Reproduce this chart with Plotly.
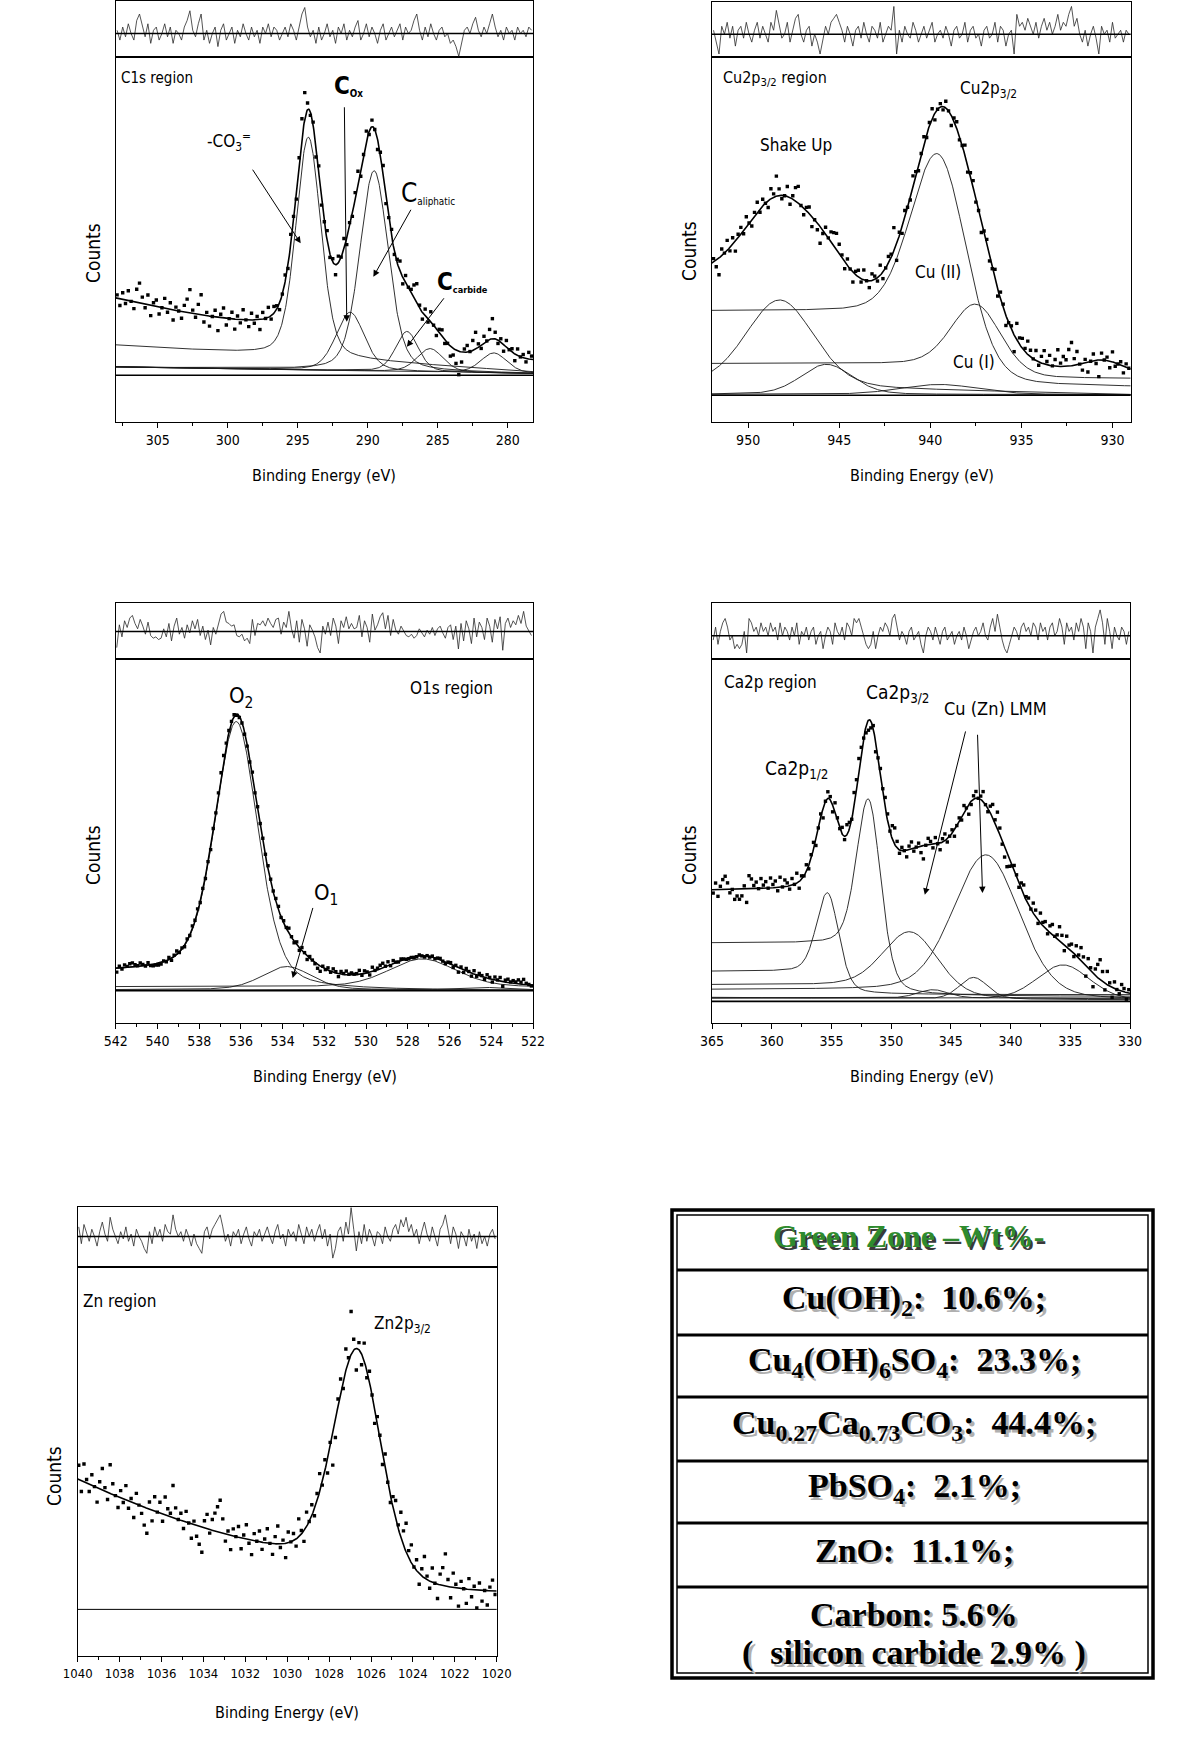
import numpy as np
import plotly.graph_objects as go

W, H = 1200, 1752
NARROW = "DejaVu Sans Condensed"
SERIF = "Liberation Serif"

# ======================= C1s region =======================
c1s_e_start, c1s_e_step = 307.9, -0.2
c1s_residual = [
    1, -2, 2, -1, 3, 0, -2, 4, 6, 2,
    -1, 3, -3, 1, 2, -2, 0, 3, -1, 2,
    -3, 1, 0, -2, 2, 4, 7, 1, -1, 3,
    6, -2, 1, -3, 0, 2, -4, 1, 3, -2,
    0, 2, -3, 1, -1, 3, 0, -2, 2, -1,
    1, -3, 2, 0, 3, -1, 2, 1, -2, 0,
    2, -1, 3, 1, -2, 2, 6, 8, 2, -1,
    1, -3, 2, -2, 0, 3, -1, 1, -3, 2,
    0, 3, -2, 1, -1, 2, 4, -2, 0, 3,
    -1, 2, 0, -3, 1, 3, -2, 0, 2, -1,
    1, 3, -2, 2, 0, 1, 4, 6, 1, -2,
    2, -1, 3, 0, -2, 1, 2, -1, 0, -3,
    -2, -4, -7, -3, 1, 2, 0, 3, 5, 1,
    -1, 2, 0, 3, 6, 2, -1, 1, -2, 2,
    0, 1, -2, 2, 0, 1, -1, 2, 1]
c1s_centers = [294.24, 291.26, 289.55, 287.2, 285.55, 281.0]
c1s_heights = [66, 17.5, 60, 12, 7, 6]
c1s_fwhm = [2.1, 2.4, 2.4, 1.9, 2.2, 2.2]
c1s_lorentz = [0.3, 0.3, 0.3, 0.3, 0.3, 0.3]
c1s_base_left = [9, 2.5, 2.5, 2.5, 2.5, 2.5]
c1s_base_right = [1, 0.5, 0.5, 0.5, 0.5, 0.5]
c1s_base_kind = ["lin", "lin", "lin", "lin", "lin", "lin"]
c1s_shown = [True, True, True, True, True, True]
c1s_background = [4.0, 0.0167, 4.1]   # right level, curvature, Shirley step

# ======================= Cu2p3/2 region =======================
cu_e_start, cu_e_step = 951.9, -0.15
cu_residual = [
    1, -2, -5, 2, 0, 3, -1, 2, -3, 1,
    2, -1, 3, 0, -2, 1, 3, -1, 2, 0,
    -2, 3, 1, 6, 2, -1, 0, 3, -2, 1,
    4, 5, 0, -2, 1, 2, -3, 0, -2, -5,
    -1, 2, 0, 3, 4, 5, 3, 1, -2, 2,
    0, -3, 1, 2, -1, 3, 0, -2, 2, 1,
    -1, 3, -2, 0, 2, 1, 7, -5, 1, -2,
    2, 0, -1, 3, 1, -2, 0, 2, -1, 1,
    3, -2, 0, 1, -1, 2, 0, -3, 1, 2,
    -1, 0, 3, -2, 1, 2, -1, 0, -3, 1,
    2, -1, 0, 3, -2, 2, 1, -3, 0, 1,
    -5, 5, 2, 3, 1, 4, 2, 0, 3, -1,
    2, 4, 1, 3, 0, 2, 5, 1, 3, 2,
    5, 7, 2, 4, 0, -2, 1, -3, 0, 2,
    -1, -5, 2, 0, 1, -2, 3, -1, 0, 1,
    -2, 1, 0]
cu_centers = [948.26, 945.7, 939.45, 937.45, 939.5, 930.5]
cu_heights = [26, 9, 58, 20, 3, 3.5]
cu_fwhm = [4.4, 3.3, 3.6, 3.2, 5.0, 2.5]
cu_lorentz = [0.2, 0.2, 0.2, 0.2, 0.2, 0.2]
cu_base_left = [3, 0.3, 25.2, 9.5, 0.3, 5]
cu_base_right = [0.2, 0.2, 2.5, 5, 0.2, 5]
cu_base_kind = ["lin", "lin", "step", "step", "lin", "lin"]
cu_shown = [True, True, True, True, True, False]
cu_background = [6.0, 0.0, 29.0]

# ======================= O1s region =======================
o_e_start, o_e_step = 541.95, -0.125
o_residual = [
    -1.2, 0.5, -0.4, 0.8, 0.3, 1.0, 1.2, 0.6, 0.2, 0.9,
    0.4, -0.2, 0.7, -0.3, -0.5, -0.4, -0.6, -0.5, 0.2, -0.4,
    0.6, -0.7, 0.4, 1.0, -0.2, 0.3, -0.5, 0.5, -0.1, 0.8,
    0.2, 0.9, -0.3, 0.4, -0.6, 0.1, -1.0, 0.3, -0.2, 0.5,
    1.3, 1.5, 0.7, 0.6, 0.4, 0.5, -0.3, -0.4, -0.2, -0.7,
    -0.5, -0.9, 0.9, -0.3, 0.6, 0.5, 0.8, 0.4, 1.0, 0.6,
    0.3, 0.9, 1.0, -0.2, 0.7, 0.3, 1.5, 0.2, -0.5, 0.8,
    -0.8, 0.9, 0.2, -1.1, 0.5, 0.1, -0.4, -1.2, -1.6, 0.4,
    -0.2, 0.7, -0.3, 1.0, 0.4, -0.9, 0.8, 0.3, 1.1, 0.2,
    0.6, 0.2, 0.3, 1.2, -0.4, 0.8, 0.3, -0.8, 1.3, 0.1,
    0.5, 1.1, 1.4, 0.2, 1.2, -0.3, 0.9, 0.1, -0.2, 0.4,
    0.1, -0.3, -0.4, -0.2, -0.5, -0.3, 0.2, -0.1, -0.4, 0.1,
    -0.2, 0.3, -0.3, 0.2, 0.4, -0.1, -0.5, 0.3, 0.5, -0.6,
    0.4, -1.3, 0.6, -0.7, 0.8, 0.2, -0.9, 1.0, -0.4, 0.7,
    0.3, -0.6, 1.0, 0.4, -0.8, 0.9, 0.2, 1.1, -1.4, 0.6,
    1.0, 0.3, 0.8, 0.5, 1.2, 0.6, 1.5, 0.4, 0.1, -0.3]
o_centers = [536.2, 533.8, 527.3, 524.5]
o_heights = [78, 7, 8.5, 0.8]
o_fwhm = [2.45, 2.8, 3.8, 3.0]
o_lorentz = [0.35, 0.3, 0.3, 0.3]
o_base_left = [5.5, 0.3, 1.2, 0.2]
o_base_right = [0.0, 0.2, 1.0, 0.2]
o_base_kind = ["step", "lin", "lin", "lin"]
o_shown = [True, True, True, True]
o_background = [1.0, 0.0, 4.5]

# ======================= Ca2p region =======================
ca_e_start, ca_e_step = 364.9, -0.2
ca_residual = [
    -1, 2, -2, 1, 3, 4, 2, -1, 0, -3,
    -2, -3, -2, 1, -4, 4, 3, 1, 2, 0,
    3, 1, 2, 0, 3, 1, 2, -1, 3, 0,
    2, 1, -1, 2, 0, 3, -2, 1, 0, 2,
    -1, 1, 2, -2, 0, 1, -3, 0, 2, 1,
    -2, 3, 1, 0, 2, -1, 3, 2, 0, 4,
    3, 4, 2, 0, -2, -3, -2, 1, -3, 0,
    2, 1, 3, 2, 0, 4, 5, 2, -1, 1,
    0, -2, 1, 2, -1, 0, 1, -2, -4, 0,
    2, 1, -1, 2, 0, -2, 1, 2, -1, 0,
    1, -2, 0, 1, -1, 2, 0, -3, -1, 1,
    2, 0, 1, 3, 0, -1, 2, 4, 1, 5,
    2, -1, -3, -4, -2, 0, 2, 1, -1, 2,
    3, 1, 2, 0, 3, 2, -1, 3, 1, 2,
    -1, 2, 3, 0, 1, 4, 2, -2, 3, 1,
    2, -1, 3, 1, 4, 2, -3, 3, 1, -4,
    2, 4, 6, 3, -2, 4, 1, -3, 2, 0,
    -1, 2, 1, -2, 1]
ca_centers = [355.28, 351.84, 348.3, 342.0, 343.1, 346.5, 335.6]
ca_heights = [27, 51, 18, 42, 6.5, 2.5, 10.5]
ca_fwhm = [2.2, 2.4, 5.4, 6.5, 2.8, 3.0, 5.2]
ca_lorentz = [0.3, 0.3, 0.2, 0.2, 0.2, 0.2, 0.2]
ca_base_left = [9, 17.5, 5, 3.5, 1.0, 1.0, 1.2]
ca_base_right = [2, 1.5, 0.7, 0.5, 0.5, 1.0, 0.3]
ca_base_kind = ["step", "step", "step", "step", "lin", "lin", "lin"]
ca_shown = [True, True, True, True, True, True, True]
ca_background = [1.0, 0.0, 32.0]

# ======================= Zn region =======================
zn_e_start, zn_e_step = 1039.95, -0.125
zn_residual = [
    4, -3, 5, 1, -2, 3, 0, -4, 2, 6,
    1, -2, 8, 3, 0, -3, 2, -1, 4, -2,
    1, -4, 3, 0, -2, -5, -7, 2, -3, 4,
    0, 3, -2, 5, 2, 1, 9, 3, 0, 2,
    -2, 3, 0, -4, 1, -3, -5, -7, 2, 4,
    -1, 3, 5, 7, 9, 4, -2, 1, -4, 2,
    0, 3, -3, 1, 4, -1, -4, 2, 0, 3,
    -2, 1, 4, 0, -3, 2, 5, -1, 1, -4,
    3, 0, 2, -2, 5, 1, -3, 4, 0, 3,
    -2, 2, 5, -1, 3, -4, 1, -9, -5, 2,
    4, -2, 6, 1, 12, 3, -6, 2, -3, 5,
    -2, 3, 0, -4, 2, 1, -3, 4, 0, -2,
    3, 5, 1, 7, 4, 8, 2, 5, 0, 3,
    -3, 2, 6, 1, -2, 4, 0, -4, 3, 5,
    9, 2, -3, 4, 1, -5, 2, 0, -4, 3,
    -2, 1, -5, 2, -3, 0, -4, 1, 3, -1]
zn_centers = [1026.65]
zn_heights = [63]
zn_fwhm = [2.7]
zn_lorentz = [0.25]
zn_base_left = [0]
zn_base_right = [0]
zn_base_kind = ["lin"]
zn_shown = [False]
zn_background = [4.5, 0.068, 4.5]

# ======================= Table =======================
table_title = "Green Zone \u2013Wt%-"
table_rows = [
    "Cu(OH)<sub>2</sub>:\u00a0 10.6%;",
    "Cu<sub>4</sub>(OH)<sub>6</sub>SO<sub>4</sub>:\u00a0 23.3%;",
    "Cu<sub>0.27</sub>Ca<sub>0.73</sub>CO<sub>3</sub>:\u00a0 44.4%;",
    "PbSO<sub>4</sub>:\u00a0 2.1%;",
    "ZnO:\u00a0 11.1%;",
    "Carbon: 5.6%",
    "(\u00a0 silicon carbide 2.9% )",
]


def pv(E, c, h, w, m):
    u = (E - c) / w
    return h * ((1 - m) * np.exp(-4 * np.log(2) * u * u) + m / (1 + 4 * u * u))


def shirley_fraction(E, y):
    Ea, ya = E[::-1], y[::-1]
    cum = np.concatenate([[0.0], np.cumsum(0.5 * (ya[1:] + ya[:-1]) * np.diff(Ea))])
    return (cum / cum[-1])[::-1]


def px_x(px):
    return px / W


def px_y(py):
    return 1 - py / H


panels = [
    dict(start=c1s_e_start, step=c1s_e_step, resid=c1s_residual, cen=c1s_centers, hgt=c1s_heights,
         fw=c1s_fwhm, lor=c1s_lorentz, bl=c1s_base_left, br=c1s_base_right, kind=c1s_base_kind,
         shown=c1s_shown, bg=c1s_background, erange=(308.0, 278.2), dtick=5, minor=2.5,
         xpx=(115.7, 533), rpx=(1, 57), mpx=(57, 422), yr=[-14, 95.3], rr=[-7.2, 10], basew=1.6,
         counts=(93, 253), xtitle=(324, 475), tfs=14),
    dict(start=cu_e_start, step=cu_e_step, resid=cu_residual, cen=cu_centers, hgt=cu_heights,
         fw=cu_fwhm, lor=cu_lorentz, bl=cu_base_left, br=cu_base_right, kind=cu_base_kind,
         shown=cu_shown, bg=cu_background, erange=(952.0, 929.0), dtick=5, minor=2.5,
         xpx=(711.7, 1130.7), rpx=(1.7, 57), mpx=(57, 422), yr=[-8, 101.3], rr=[-5.75, 8.2], basew=1.6,
         counts=(689, 251), xtitle=(922, 475), tfs=14),
    dict(start=o_e_start, step=o_e_step, resid=o_residual, cen=o_centers, hgt=o_heights,
         fw=o_fwhm, lor=o_lorentz, bl=o_base_left, br=o_base_right, kind=o_base_kind,
         shown=o_shown, bg=o_background, erange=(542.0, 522.0), dtick=2, minor=1,
         xpx=(115.7, 533), rpx=(603, 659), mpx=(659, 1023), yr=[-9.7, 99.6], rr=[-2.05, 2.125], basew=1.6,
         counts=(93, 855), xtitle=(325, 1076), tfs=14),
    dict(start=ca_e_start, step=ca_e_step, resid=ca_residual, cen=ca_centers, hgt=ca_heights,
         fw=ca_fwhm, lor=ca_lorentz, bl=ca_base_left, br=ca_base_right, kind=ca_base_kind,
         shown=ca_shown, bg=ca_background, erange=(365.0, 330.0), dtick=5, minor=2.5,
         xpx=(712, 1130), rpx=(603, 659), mpx=(659, 1023), yr=[-6.5, 102.8], rr=[-5.4, 7.6], basew=1.6,
         counts=(689, 855), xtitle=(922, 1076), tfs=14),
    dict(start=zn_e_start, step=zn_e_step, resid=zn_residual, cen=zn_centers, hgt=zn_heights,
         fw=zn_fwhm, lor=zn_lorentz, bl=zn_base_left, br=zn_base_right, kind=zn_base_kind,
         shown=zn_shown, bg=zn_background, erange=(1040.0, 1020.0), dtick=2, minor=1,
         xpx=(77.7, 496.7), rpx=(1206.7, 1267), mpx=(1267, 1656), yr=[-13, 95.5], rr=[-12.7, 12.4],
         basew=1.0, counts=(54, 1476), xtitle=(287, 1712), tfs=13),
]

fig = go.Figure()
lay = {}
annotations = []
shapes = []
LINE = "#1a1a1a"

for i, p in enumerate(panels):
    m, r = 2 * i + 1, 2 * i + 2
    xm = "x" if m == 1 else f"x{m}"
    ym = "y" if m == 1 else f"y{m}"
    xr, yr = f"x{r}", f"y{r}"
    emax, emin = p["erange"]
    Ef = np.linspace(emax, emin, 900)
    peaks = [pv(Ef, c, h, w, mm) for c, h, w, mm in zip(p["cen"], p["hgt"], p["fw"], p["lor"])]
    total = np.sum(peaks, axis=0)
    F = shirley_fraction(Ef, total)
    bR, q, D = p["bg"]
    env = bR + q * (Ef - emin) ** 2 + D * F + total

    for k, pk in enumerate(peaks):
        if not p["shown"][k]:
            continue
        bl, br = p["bl"][k], p["br"][k]
        if p["kind"][k] == "step":
            base = br + (bl - br) * shirley_fraction(Ef, pk)
        else:
            base = br + (bl - br) * (Ef - emin) / (emax - emin)
        fig.add_trace(go.Scatter(x=Ef, y=base + pk, mode="lines", line=dict(color=LINE, width=0.9),
                                 xaxis=xm, yaxis=ym, hoverinfo="skip"))
    fig.add_trace(go.Scatter(x=Ef, y=env, mode="lines", line=dict(color="black", width=1.6),
                             xaxis=xm, yaxis=ym, hoverinfo="skip"))

    resid = np.array(p["resid"], dtype=float)
    Ed = p["start"] + p["step"] * np.arange(len(resid))
    env_d = np.interp(Ed, Ef[::-1], env[::-1])
    counts = env_d + resid
    fig.add_trace(go.Scatter(x=Ed, y=counts, mode="markers",
                             marker=dict(color="black", size=3.4, symbol="square"),
                             xaxis=xm, yaxis=ym, hoverinfo="skip"))
    fig.add_trace(go.Scatter(x=Ed, y=resid, mode="lines", line=dict(color="#2a2a2a", width=0.8),
                             xaxis=xr, yaxis=yr, hoverinfo="skip"))

    xd = [px_x(p["xpx"][0]), px_x(p["xpx"][1])]
    ydm = [px_y(p["mpx"][1]), px_y(p["mpx"][0])]
    ydr = [px_y(p["rpx"][1]), px_y(p["rpx"][0])]
    common = dict(showline=True, mirror=True, linecolor="black", linewidth=1.4,
                  showgrid=False, zeroline=False, automargin=False)
    lay["xaxis" if m == 1 else f"xaxis{m}"] = dict(
        domain=xd, range=[emax, emin], anchor=ym, ticks="outside", ticklen=5, tickwidth=1,
        tickcolor="black", tickmode="linear", tick0=0, dtick=p["dtick"],
        minor=dict(ticks="outside", ticklen=3, tickwidth=1, tickcolor="black",
                   dtick=p["minor"], tick0=0, showgrid=False),
        tickfont=dict(family=NARROW, size=p["tfs"], color="black"), **common)
    lay["yaxis" if m == 1 else f"yaxis{m}"] = dict(
        domain=ydm, range=p["yr"], anchor=xm, showticklabels=False, ticks="", **common)
    lay[f"xaxis{r}"] = dict(domain=xd, range=[emax, emin], anchor=yr, showticklabels=False,
                            ticks="", **common)
    lay[f"yaxis{r}"] = dict(domain=ydr, range=p["rr"], anchor=xr, showticklabels=False,
                            ticks="", **common)

    shapes.append(dict(type="line", xref=f"{xm} domain", yref=ym, x0=0, x1=1, y0=0, y1=0,
                       line=dict(color="black", width=p["basew"])))
    shapes.append(dict(type="line", xref=f"{xr} domain", yref=yr, x0=0, x1=1, y0=0, y1=0,
                       line=dict(color="black", width=1.6)))

    annotations.append(dict(text="Counts", xref="paper", yref="paper", x=px_x(p["counts"][0]),
                            y=px_y(p["counts"][1]), textangle=-90, showarrow=False,
                            xanchor="center", yanchor="middle",
                            font=dict(family=NARROW, size=19, color="black")))
    annotations.append(dict(text="Binding Energy (eV)", xref="paper", yref="paper",
                            x=px_x(p["xtitle"][0]), y=px_y(p["xtitle"][1]), showarrow=False,
                            xanchor="center", yanchor="middle",
                            font=dict(family=NARROW, size=16, color="black")))


def lab(text, x, y, ax, size=16, xanchor="center"):
    xm = "x" if ax == 1 else f"x{ax}"
    ym = "y" if ax == 1 else f"y{ax}"
    annotations.append(dict(text=text, x=x, y=y, xref=xm, yref=ym, showarrow=False,
                            xanchor=xanchor, yanchor="middle",
                            font=dict(family=NARROW, size=size, color="black")))


def arrow(x0, y0, x1, y1, ax):
    xm = "x" if ax == 1 else f"x{ax}"
    ym = "y" if ax == 1 else f"y{ax}"
    annotations.append(dict(text="", x=x1, y=y1, ax=x0, ay=y0, xref=xm, yref=ym, axref=xm,
                            ayref=ym, showarrow=True, arrowhead=2, arrowsize=1.3,
                            arrowwidth=1, arrowcolor="black"))


# C1s labels
lab("C1s region", 307.8, 89, 1, 15, "left")
lab("-CO<sub>3</sub><sup>=</sup>", 299.9, 70, 1, 17)
lab("<b><span style='font-size:24px'>C</span></b><b><sub>Ox</sub></b>", 291.4, 86.5, 1, 14)
lab("<span style='font-size:26px'>C</span><sub>aliphatic</sub>", 285.7, 54.5, 1, 14)
lab("<b><span style='font-size:24px'>C</span></b><b><sub>carbide</sub></b>", 283.2, 28, 1, 13)
arrow(298.29, 62, 294.79, 39.5, 1)
arrow(291.67, 80.7, 291.5, 16, 1)
arrow(286.86, 50, 289.6, 29.5, 1)
arrow(284.48, 23.5, 287.21, 8.5, 1)

# Cu2p labels
lab("Cu2p<sub>3/2</sub> region", 951.5, 95, 3, 16, "left")
lab("Cu2p<sub>3/2</sub>", 936.8, 91.5, 3, 17)
lab("Shake Up", 947.4, 75, 3, 17)
lab("Cu (II)", 939.56, 37, 3, 17)
lab("Cu (I)", 937.58, 10, 3, 17)

# O1s labels
lab("O1s region", 525.9, 90.8, 5, 17)
lab("O<sub>2</sub>", 536.0, 88, 5, 22)
lab("O<sub>1</sub>", 531.9, 29, 5, 22)
arrow(532.53, 25.3, 533.52, 3.8, 5)

# Ca2p labels
lab("Ca2p region", 364.2, 96, 7, 17, "left")
lab("Ca2p<sub>1/2</sub>", 357.9, 69.5, 7, 19)
lab("Ca2p<sub>3/2</sub>", 349.5, 92.5, 7, 19)
lab("Cu (Zn) LMM", 341.3, 88, 7, 18)
arrow(343.74, 81.5, 347.18, 32, 7)
arrow(342.77, 80.5, 342.35, 32.5, 7)

# Zn labels
lab("Zn region", 1038.0, 86, 9, 17)
lab("Zn2p<sub>3/2</sub>", 1024.5, 79.5, 9, 17)

# ---------------- table ----------------
tx0, tx1, ty0, ty1 = 672, 1153, 1210, 1678
shapes.append(dict(type="rect", xref="paper", yref="paper", x0=px_x(tx0), x1=px_x(tx1),
                   y0=px_y(ty1), y1=px_y(ty0), line=dict(color="black", width=3.5)))
shapes.append(dict(type="rect", xref="paper", yref="paper", x0=px_x(tx0 + 5), x1=px_x(tx1 - 5),
                   y0=px_y(ty1 - 5), y1=px_y(ty0 + 5), line=dict(color="black", width=1.5)))
for sy in [1270, 1335, 1397, 1461, 1523, 1587]:
    shapes.append(dict(type="line", xref="paper", yref="paper", x0=px_x(tx0 + 5), x1=px_x(tx1 - 5),
                       y0=px_y(sy), y1=px_y(sy), line=dict(color="black", width=3)))

tcx = 914
row_y = [1300, 1362, 1425, 1488, 1550, 1614, 1653]


def ttext(text, x, y, color, size, shadow, off=2.5):
    annotations.append(dict(text=f"<b>{text}</b>", xref="paper", yref="paper",
                            x=px_x(x + off), y=px_y(y + off), showarrow=False,
                            xanchor="center", yanchor="middle",
                            font=dict(family=SERIF, size=size, color=shadow)))
    annotations.append(dict(text=f"<b>{text}</b>", xref="paper", yref="paper",
                            x=px_x(x), y=px_y(y), showarrow=False,
                            xanchor="center", yanchor="middle",
                            font=dict(family=SERIF, size=size, color=color)))


ttext(table_title, tcx - 6, 1236, "#2e8b2e", 32, "#3a3a3a", 2.5)
for txt, yy in zip(table_rows, row_y):
    ttext(txt, tcx, yy, "black", 34, "#b0b0b0", 2.5)

fig.update_layout(width=W, height=H, margin=dict(l=0, r=0, t=0, b=0, autoexpand=False),
                  paper_bgcolor="white", plot_bgcolor="white", showlegend=False,
                  annotations=annotations, shapes=shapes, **lay)

fig.write_html("out.html", config={"displayModeBar": False},
               post_script="document.body.style.margin='0px';document.body.style.padding='0px';")
